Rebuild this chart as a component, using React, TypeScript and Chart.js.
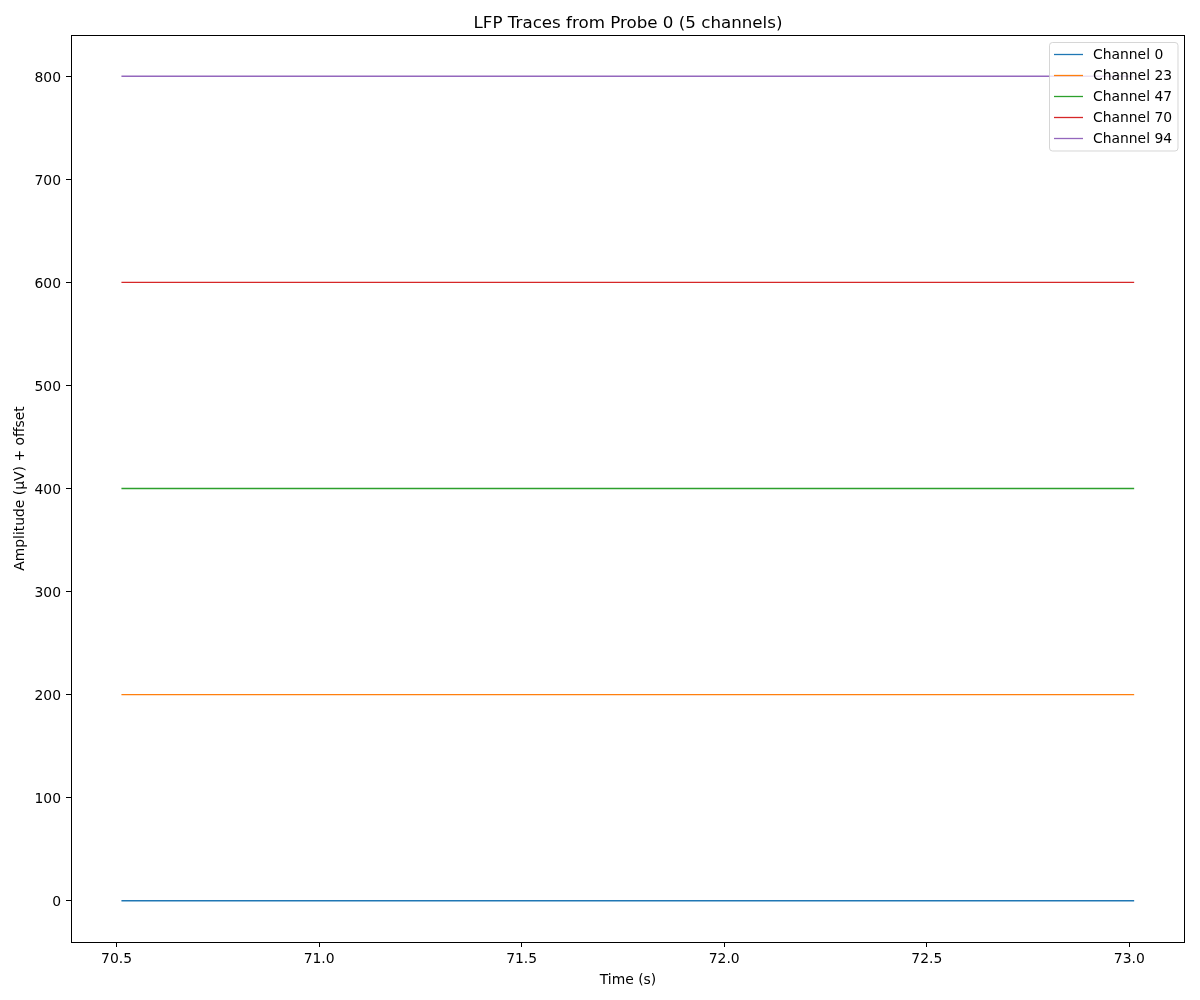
import React, { useEffect, useRef } from "react";
import { Chart, registerables } from "chart.js";

Chart.register(...registerables);

const TITLE = "LFP Traces from Probe 0 (5 channels)";
const X_LABEL = "Time (s)";
const Y_LABEL = "Amplitude (µV) + offset";

const times = [70.512, 73.012];
const channelNames = ["Channel 0", "Channel 23", "Channel 47", "Channel 70", "Channel 94"];
const ch0 = [0, 0];
const ch23 = [200, 200];
const ch47 = [400, 400];
const ch70 = [600, 600];
const ch94 = [800, 800];
const seriesValues = [ch0, ch23, ch47, ch70, ch94];
const colors = ["#1f77b4", "#ff7f0e", "#2ca02c", "#d62728", "#9467bd"];

const xTicks = [70.5, 71.0, 71.5, 72.0, 72.5, 73.0];
const yTicks = [0, 100, 200, 300, 400, 500, 600, 700, 800];

const X_MIN = 70.3875;
const X_MAX = 73.1375;
const Y_MIN = -40;
const Y_MAX = 840;

const FONT = "'DejaVu Sans', sans-serif";

const decorPlugin = {
  id: "decor",
  afterDraw(chart: any) {
    const { ctx, chartArea } = chart;
    const { left, right, top, bottom } = chartArea;
    ctx.save();
    // frame
    ctx.strokeStyle = "#000";
    ctx.lineWidth = 1;
    ctx.strokeRect(Math.round(left) + 0.5, Math.round(top) + 0.5, Math.round(right - left) - 1, Math.round(bottom - top));
    // title
    ctx.fillStyle = "#000";
    ctx.font = `16.7px ${FONT}`;
    ctx.textAlign = "center";
    ctx.textBaseline = "middle";
    ctx.fillText(TITLE, (left + right) / 2, 24);
    // legend
    const bx = 1049.5, by = 42.5, bw = 128.5, bh = 108.5, r = 3;
    ctx.beginPath();
    ctx.moveTo(bx + r, by);
    ctx.lineTo(bx + bw - r, by);
    ctx.quadraticCurveTo(bx + bw, by, bx + bw, by + r);
    ctx.lineTo(bx + bw, by + bh - r);
    ctx.quadraticCurveTo(bx + bw, by + bh, bx + bw - r, by + bh);
    ctx.lineTo(bx + r, by + bh);
    ctx.quadraticCurveTo(bx, by + bh, bx, by + bh - r);
    ctx.lineTo(bx, by + r);
    ctx.quadraticCurveTo(bx, by, bx + r, by);
    ctx.closePath();
    ctx.fillStyle = "rgba(255,255,255,0.8)";
    ctx.fill();
    ctx.strokeStyle = "rgba(204,204,204,0.8)";
    ctx.stroke();
    ctx.font = `13.9px ${FONT}`;
    ctx.textAlign = "left";
    ctx.textBaseline = "middle";
    chart.data.datasets.forEach((ds: any, i: number) => {
      const y = 54 + i * 21;
      ctx.strokeStyle = ds.borderColor;
      ctx.lineWidth = 1.3;
      ctx.beginPath();
      ctx.moveTo(1054, y + 0.5);
      ctx.lineTo(1083, y + 0.5);
      ctx.stroke();
      ctx.fillStyle = "#000";
      ctx.fillText(ds.label, 1093, y + 1.5);
    });
    ctx.restore();
  },
};

export default function App() {
  const ref = useRef<HTMLCanvasElement | null>(null);

  useEffect(() => {
    if (!ref.current) return;
    const chart = new Chart(ref.current, {
      type: "line",
      data: {
        datasets: seriesValues.map((vals, i) => ({
          label: channelNames[i],
          data: times.map((t, j) => ({ x: t, y: vals[j] })),
          borderColor: colors[i],
          backgroundColor: colors[i],
          borderWidth: 1.3,
          pointRadius: 0,
          fill: false,
        })),
      },
      options: {
        animation: false,
        responsive: false,
        layout: { padding: { left: 0, top: 35, right: 15, bottom: 0 } },
        plugins: {
          legend: { display: false },
          title: { display: false },
          tooltip: { enabled: false },
        },
        scales: {
          x: {
            type: "linear",
            min: X_MIN,
            max: X_MAX,
            afterFit: (s: any) => { s.height = 58; },
            afterBuildTicks: (s: any) => { s.ticks = xTicks.map((v) => ({ value: v })); },
            ticks: {
              color: "#000",
              font: { family: FONT, size: 13.9 },
              padding: 4,
              maxRotation: 0,
              autoSkip: false,
              callback: (v: any) => Number(v).toFixed(1),
            },
            grid: { drawOnChartArea: false, drawTicks: true, tickLength: 5, color: "#000" },
            border: { display: false },
            title: { display: true, text: X_LABEL, color: "#000", font: { family: FONT, size: 13.9 }, padding: { top: 0, bottom: 11 } },
          },
          y: {
            type: "linear",
            min: Y_MIN,
            max: Y_MAX,
            afterFit: (s: any) => { s.width = 71; },
            afterBuildTicks: (s: any) => { s.ticks = yTicks.map((v) => ({ value: v })); },
            ticks: {
              color: "#000",
              font: { family: FONT, size: 13.9 },
              padding: 5,
              labelOffset: 2,
              autoSkip: false,
              callback: (v: any) => String(v),
            },
            grid: { drawOnChartArea: false, drawTicks: true, tickLength: 5, color: "#000" },
            border: { display: false },
            title: { display: true, text: Y_LABEL, color: "#000", font: { family: FONT, size: 13.9 }, padding: { top: 12, bottom: 0 } },
          },
        },
      },
      plugins: [decorPlugin],
    });
    return () => chart.destroy();
  }, []);

  return (
    <div style={{ position: "absolute", left: 0, top: 0, width: 1200, height: 1000, background: "#fff" }}>
      <canvas ref={ref} width={1200} height={1000} style={{ width: 1200, height: 1000 }} />
    </div>
  );
}
